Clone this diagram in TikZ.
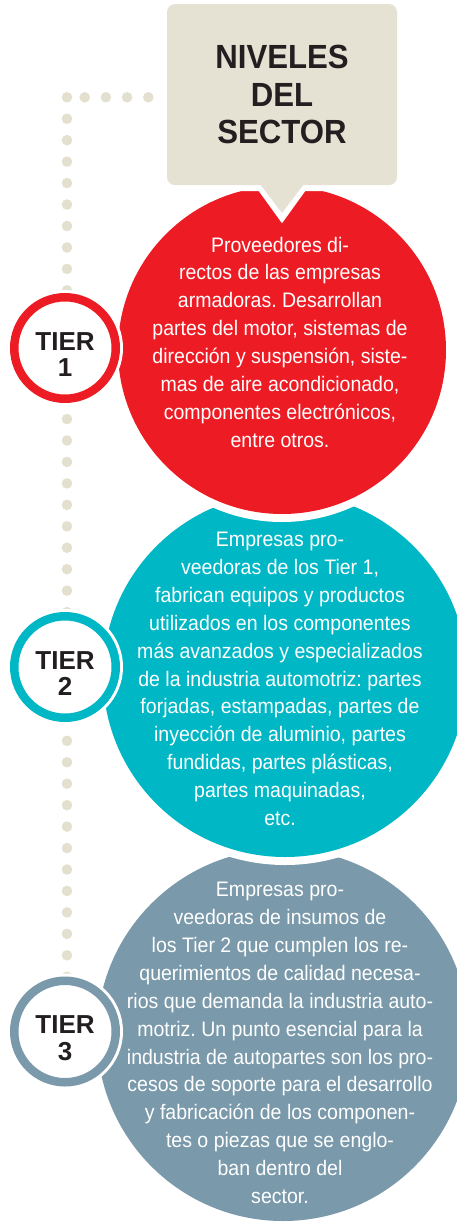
\documentclass[tikz,border=0pt]{standalone}
\usepackage{fontspec}
\setmainfont{Liberation Sans}
\newfontfamily\bodyfont[FakeStretch=0.93]{Liberation Sans}
\newfontfamily\headfont[FakeStretch=0.93]{Liberation Sans}
\definecolor{tred}{RGB}{237,28,36}
\definecolor{tteal}{RGB}{0,183,197}
\definecolor{tgray}{RGB}{122,153,170}
\definecolor{beige}{RGB}{230,226,211}
\definecolor{dotc}{RGB}{228,224,208}
\definecolor{ink}{RGB}{35,31,32}
\frenchspacing
\tikzset{
  bigcirc/.style={circle, inner sep=0pt, minimum size=#1, draw=none, preaction={draw=white, line width=16pt}},
  tierring/.style={circle, inner sep=0pt, minimum size=101.5pt, fill=white, line width=8.5pt, preaction={draw=white, line width=14.5pt}},
  tiertext/.style={font=\bfseries\fontsize{26}{26.7}\selectfont, align=center, text=ink, inner sep=0pt},
  bodytext/.style={font=\bodyfont\fontsize{21}{27.86}\selectfont, align=center, text=white, inner sep=0pt},
  titlebox/.style={rectangle, rounded corners=8pt, minimum width=230pt, minimum height=181pt, fill=beige, inner sep=0pt, preaction={draw=white, line width=12pt}, font=\headfont\bfseries\fontsize{33.5}{37.6}\selectfont, align=center, text=ink},
  dot/.style={fill=dotc}
}
\begin{document}
\begin{tikzpicture}[x=1pt,y=-1pt]
\useasboundingbox (0,0) rectangle (456,1223);
% dotted guide
\foreach \k in {0,...,41} {\fill[dot] (67,{97.3+21.45*\k}) circle (5.3pt);}
\foreach \k in {0,...,3} {\fill[dot] ({148.3-21.2*\k},97.3) circle (5.3pt);}
% big circles
\node[bigcirc=372pt, fill=tgray] (c3) at (283,1035) {};
\node[bigcirc=364pt, fill=tteal] (c2) at (285,675) {};
\node[bigcirc=328pt, fill=tred] (c1) at (282,350) {};
% title box with tail
\draw[white, line width=12pt, line join=miter] (256,177) -- (282,213) -- (308,177);
\node[titlebox] (title) at (282,94.6) {NIVELES\\DEL\\SECTOR};
\coordinate (tl) at (260,184);
\coordinate (tip) at (282,213);
\coordinate (tr) at (304,184);
\fill[beige] (tl) -- (tip) -- (tr) -- cycle;
% tier rings
\node[tierring, draw=tred] (t1) at (65,348) {};
\node[tierring, draw=tteal] (t2) at (65,667) {};
\node[tierring, draw=tgray] (t3) at (65,1031.5) {};
\node[tiertext] (l1) at (65,354.5) {TIER\\1};
\node[tiertext] (l2) at (65,673.5) {TIER\\2};
\node[tiertext] (l3) at (65,1038) {TIER\\3};
% body texts
\node[bodytext] (b1) at (280,342) {Proveedores di-\\rectos de las empresas\\armadoras. Desarrollan\\partes del motor, sistemas de\\dirección y suspensión, siste-\\mas de aire acondicionado,\\componentes electrónicos,\\entre otros.};
\node[bodytext] (b2) at (280,679) {Empresas pro-\\veedoras de los Tier 1,\\fabrican equipos y productos\\utilizados en los componentes\\más avanzados y especializados\\de la industria automotriz: partes\\forjadas, estampadas, partes de\\inyección de aluminio, partes\\fundidas, partes plásticas,\\partes maquinadas,\\etc.};
\node[bodytext] (b3) at (280,1043) {Empresas pro-\\veedoras de insumos de\\los Tier 2 que cumplen los re-\\querimientos de calidad necesa-\\rios que demanda la industria auto-\\motriz. Un punto esencial para la\\industria de autopartes son los pro-\\cesos de soporte para el desarrollo\\y fabricación de los componen-\\tes o piezas que se englo-\\ban dentro del\\sector.};
\end{tikzpicture}
\end{document}
